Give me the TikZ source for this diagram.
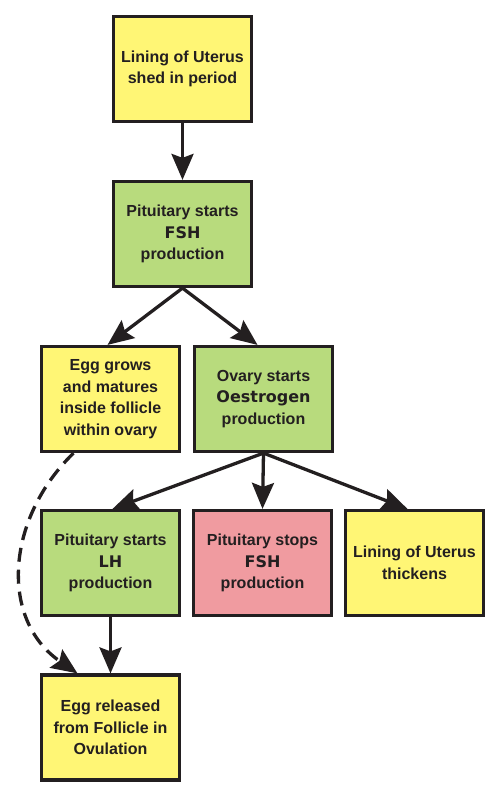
\documentclass[tikz,border=0pt]{standalone}
\usepackage{fontspec}
\setmainfont{Liberation Sans}
\newfontfamily\heavyfont{DejaVu Sans}
\usetikzlibrary{arrows.meta}
\definecolor{ink}{HTML}{231F20}
\definecolor{boxyellow}{HTML}{FFF675}
\definecolor{boxgreen}{HTML}{B8DB7D}
\definecolor{boxpink}{HTML}{F09BA0}
\newcommand{\hv}[1]{{\heavyfont\bfseries #1}}
\begin{document}
\begin{tikzpicture}[x=1pt,y=-1pt,
  stage/.style={draw=ink, line width=3.2pt, minimum width=138pt, minimum height=105pt,
    inner sep=0pt, align=center, text=ink,
    font=\fontsize{16pt}{21.5pt}\selectfont\bfseries},
  yel/.style={stage, fill=boxyellow},
  grn/.style={stage, fill=boxgreen},
  pnk/.style={stage, fill=boxpink},
  link/.style={draw=ink, line width=3.3pt, -{Stealth[length=26pt,width=22pt,inset=4pt]}}
]
\useasboundingbox (0,0) rectangle (500,797);
\node[yel] (b1) at (182.5,69) {Lining of Uterus\\shed in period};
\node[grn] (b2) at (182.5,234) {Pituitary starts\\\hv{FSH}\\production};
\node[yel] (b3) at (110.5,399) {Egg grows\\and matures\\inside follicle\\within ovary};
\node[grn] (b4) at (263.5,399) {Ovary starts\\\hv{Oestrogen}\\production};
\node[grn] (b5) at (110.5,563) {Pituitary starts\\\hv{LH}\\production};
\node[pnk] (b6) at (262.5,563) {Pituitary stops\\\hv{FSH}\\production};
\node[yel] (b7) at (414.5,563) {Lining of Uterus\\thickens};
\node[yel] (b8) at (110.5,727.5) {Egg released\\from Follicle in\\Ovulation};
\draw[link] (b1.south) -- (b2.north);
\draw[link] (b2.south) -- ([xshift=-3pt]b3.north);
\draw[link] (b2.south) -- ([xshift=-6pt]b4.north);
\draw[link] (b4.south) -- ([xshift=2pt]b5.north);
\draw[link] (b4.south) -- (b6.north);
\draw[link] (b4.south) -- ([xshift=-7pt]b7.north);
\draw[link] (b5.south) -- (b8.north);
\draw[link, dash pattern=on 14pt off 8pt] ([xshift=-37pt]b3.south) .. controls (5,520) and (0,620) .. ([xshift=-33pt]b8.north);
\end{tikzpicture}
\end{document}
